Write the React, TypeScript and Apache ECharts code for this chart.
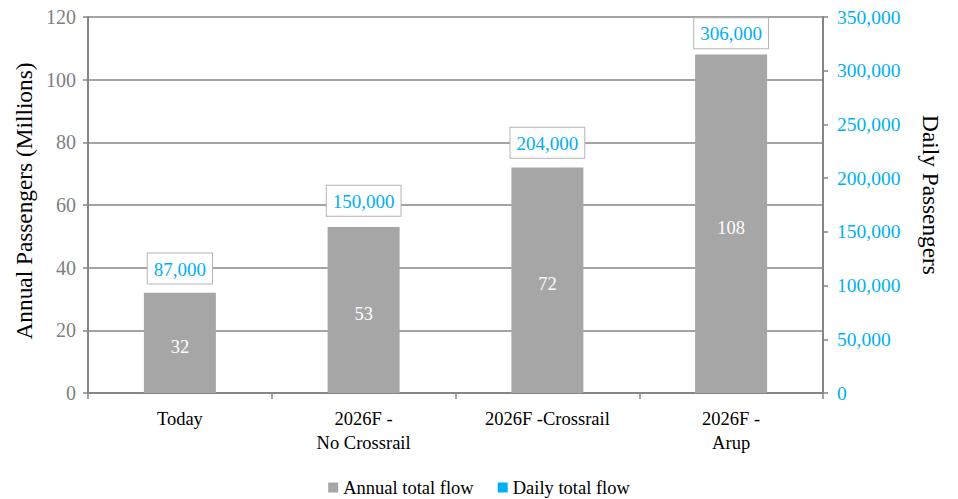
import React, { useEffect, useRef } from "react";
import * as echarts from "echarts";

const categories = ["Today", "2026F -\nNo Crossrail", "2026F -Crossrail", "2026F -\nArup"];
const annualMillions = [32, 53, 72, 108];
const dailyPassengers = [87000, 150000, 204000, 306000];
const leftTicks = { min: 0, max: 120, interval: 20 };
const rightTicks = { min: 0, max: 350000, interval: 50000 };

const FONT = "'Liberation Serif', 'Times New Roman', serif";
const GRAY = "#a6a6a6";
const AXIS = "#868686";
const CYAN = "#00b0f0";

const fmt = (v: number) => v.toLocaleString("en-US");

export default function App() {
  const ref = useRef<HTMLDivElement>(null);

  useEffect(() => {
    if (!ref.current) return;
    const chart = echarts.init(ref.current, null, { renderer: "svg" });
    chart.setOption({
      animation: false,
      backgroundColor: "#ffffff",
      grid: { left: 88, right: 135, top: 17, bottom: 106, containLabel: false },
      legend: {
        top: 473,
        left: "center",
        itemWidth: 10,
        itemHeight: 10,
        itemGap: 24,
        icon: "rect",
        textStyle: { fontFamily: FONT, fontSize: 18.5, color: "#000" },
        data: [
          { name: "Annual total flow", itemStyle: { color: GRAY } },
          { name: "Daily total flow", itemStyle: { color: CYAN, opacity: 1 } },
        ],
      },
      xAxis: {
        type: "category",
        data: categories,
        axisLine: { lineStyle: { color: AXIS, width: 2 } },
        axisTick: { show: true, alignWithLabel: false, length: 6, lineStyle: { color: AXIS, width: 1.5 } },
        axisLabel: {
          interval: 0,
          margin: 14,
          fontFamily: FONT,
          fontSize: 18.5,
          lineHeight: 24,
          color: "#000",
        },
      },
      yAxis: [
        {
          type: "value",
          ...leftTicks,
          name: "Annual Passengers (Millions)",
          nameLocation: "middle",
          nameGap: 51,
          nameTextStyle: { fontFamily: FONT, fontSize: 23.3, color: "#000", padding: [0, 0, 0, 8] },
          axisLine: { show: true, lineStyle: { color: AXIS, width: 2 } },
          axisTick: { show: true, length: 5, lineStyle: { color: AXIS, width: 1.5 } },
          axisLabel: { fontFamily: FONT, fontSize: 20, color: "#7f7f7f", margin: 12 },
          splitLine: { show: true, lineStyle: { color: AXIS, width: 1.5 } },
        },
        {
          type: "value",
          ...rightTicks,
          position: "right",
          name: "Daily Passengers",
          nameLocation: "middle",
          nameRotate: -90,
          nameGap: 96,
          nameTextStyle: { fontFamily: FONT, fontSize: 23.3, color: "#000", padding: [0, 20, 0, 0] },
          axisLine: { show: true, lineStyle: { color: AXIS, width: 2 } },
          axisTick: { show: true, length: 5, lineStyle: { color: AXIS, width: 1.5 } },
          axisLabel: {
            fontFamily: FONT,
            fontSize: 19.5,
            color: CYAN,
            margin: 14,
            formatter: (v: number) => fmt(v),
          },
          splitLine: { show: false },
        },
      ],
      series: [
        {
          name: "Annual total flow",
          type: "bar",
          yAxisIndex: 0,
          data: annualMillions,
          barWidth: 72,
          itemStyle: { color: GRAY },
          label: {
            show: true,
            position: "inside",
            offset: [0, 4],
            fontFamily: FONT,
            fontSize: 18.5,
            color: "#ffffff",
          },
          z: 3,
        },
        {
          name: "Daily total flow",
          type: "bar",
          yAxisIndex: 1,
          data: dailyPassengers,
          barWidth: 72,
          barGap: "-100%",
          itemStyle: { color: "rgba(0,176,240,0)" },
          label: {
            show: true,
            position: "top",
            distance: 16,
            fontFamily: FONT,
            fontSize: 19,
            color: CYAN,
            backgroundColor: "#ffffff",
            borderColor: "#b4b4b4",
            borderWidth: 1,
            padding: [6, 6, 5, 6],
            formatter: (p: any) => fmt(p.value),
          },
          z: 4,
        },
      ],
    });
    return () => chart.dispose();
  }, []);

  return (
    <div
      ref={ref}
      style={{ position: "fixed", left: 0, top: 0, width: 958, height: 499 }}
    />
  );
}
